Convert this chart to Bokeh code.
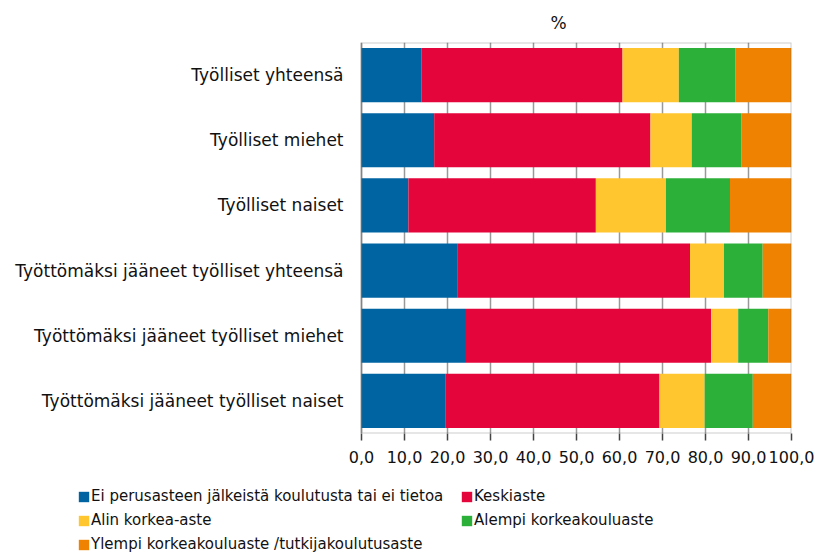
from bokeh.plotting import figure
from bokeh.layouts import column
from bokeh.core.properties import value
from bokeh.models import (FactorRange, Range1d, FixedTicker, Legend, LegendItem, Title,
                          ColumnDataSource, BoxAnnotation)
from bokeh.embed import file_html
from bokeh.resources import INLINE

categories = [
    "Työlliset yhteensä",
    "Työlliset miehet",
    "Työlliset naiset",
    "Työttömäksi jääneet työlliset yhteensä",
    "Työttömäksi jääneet työlliset miehet",
    "Työttömäksi jääneet työlliset naiset",
]
series_names = [
    "Ei perusasteen jälkeistä koulutusta tai ei tietoa",
    "Keskiaste",
    "Alin korkea-aste",
    "Alempi korkeakouluaste",
    "Ylempi korkeakouluaste /tutkijakoulutusaste",
]
ei_perus = [14.0, 16.9, 10.9, 22.4, 24.3, 19.6]
keskiaste = [46.7, 50.3, 43.6, 54.0, 57.0, 49.7]
alin_korkea = [13.1, 9.6, 16.3, 7.9, 6.3, 10.5]
alempi_korkea = [13.1, 11.5, 14.9, 9.0, 7.0, 11.2]
ylempi_korkea = [13.1, 11.7, 14.3, 6.7, 5.4, 9.0]

tick_values = [0, 10, 20, 30, 40, 50, 60, 70, 80, 90, 100]
tick_labels = ["0,0", "10,0", "20,0", "30,0", "40,0", "50,0", "60,0", "70,0", "80,0", "90,0", "100,0"]

colors = ["#0064A2", "#E4053A", "#FFC630", "#2DB03A", "#EF8200"]
keys = ["s0", "s1", "s2", "s3", "s4"]

source = ColumnDataSource(dict(
    cat=categories,
    s0=ei_perus, s1=keskiaste, s2=alin_korkea, s3=alempi_korkea, s4=ylempi_korkea,
))

FONT = "DejaVu Sans"

# layout constants (pixels)
LABEL_AREA = 361      # room left of the value axis for category labels
BAR_AREA = 430        # pixel width of the 0..100 value span
X_MIN, X_MAX = tick_values[0], tick_values[-1]
x_start = X_MIN - (X_MAX - X_MIN) * LABEL_AREA / BAR_AREA

# ---------------- main chart ----------------
p = figure(
    width=814, height=485,
    x_range=Range1d(x_start, X_MAX),
    y_range=FactorRange(factors=list(reversed(categories))),
    output_backend="svg", toolbar_location=None,
    min_border_left=0, min_border_right=23, min_border_top=42, min_border_bottom=52,
    y_axis_location=None,
)

p.hbar_stack(keys, y="cat", height=0.83, color=colors, line_color=None, source=source)

# category labels, right-aligned just left of the value axis start
p.text(x=X_MIN, y="cat", text="cat", source=source, x_offset=-18,
       text_align="right", text_baseline="middle",
       text_font=value(FONT), text_font_size="17px", text_color="#111111")

ticker = FixedTicker(ticks=tick_values)
p.xaxis.ticker = ticker
p.xaxis.major_label_overrides = {v: l for v, l in zip(tick_values, tick_labels)}
p.xaxis.major_tick_out = 7
p.xaxis.major_tick_in = 0
p.xaxis.minor_tick_line_color = None
p.xaxis.axis_line_color = None
p.xaxis.major_tick_line_color = "#444444"
p.xaxis.major_tick_line_width = 1.5
p.xaxis.major_label_text_font = FONT
p.xaxis.major_label_text_font_size = "16px"
p.xaxis.major_label_text_color = "#111111"
p.xaxis.major_label_standoff = 10

p.xgrid.ticker = ticker
p.xgrid.grid_line_color = "#999999"
p.xgrid.grid_line_width = 1.5
p.ygrid.grid_line_color = None
p.outline_line_color = None

# box around the value area
p.add_layout(BoxAnnotation(left=X_MIN, right=X_MAX, fill_color=None, fill_alpha=0,
                           line_color="#555555", line_width=2, line_dash="solid"))

p.title = Title(text="%", align="left", offset=550, standoff=19, text_font=FONT,
                text_font_size="17px", text_font_style="normal", text_color="#111111")

# ---------------- legend strip ----------------
lg = figure(
    width=814, height=68,
    x_range=Range1d(x_start, X_MAX),
    y_range=FactorRange(factors=list(reversed(categories))),
    output_backend="svg", toolbar_location=None,
    min_border=0, min_border_right=23, x_axis_location=None, y_axis_location=None,
)
lg.xgrid.grid_line_color = None
lg.ygrid.grid_line_color = None
lg.outline_line_color = None
leg_renderers = lg.hbar_stack(keys, y="cat", height=0.83, color=colors, line_color=None, source=source)
for r in leg_renderers:
    r.visible = False

items = [LegendItem(label=n, renderers=[r]) for n, r in zip(series_names, leg_renderers)]
legend = Legend(
    items=items, orientation="horizontal", ncols=2,
    location=(77, 0),
    glyph_width=13, glyph_height=13, label_standoff=1,
    label_text_font=FONT, label_text_font_size="15px", label_text_color="#111111",
    label_width=363, label_height=18, spacing=6, padding=0, margin=0,
    border_line_color=None, background_fill_alpha=0,
)
lg.add_layout(legend, "center")

layout = column(p, lg, spacing=0)
open("out.html", "w").write(file_html(layout, INLINE))
